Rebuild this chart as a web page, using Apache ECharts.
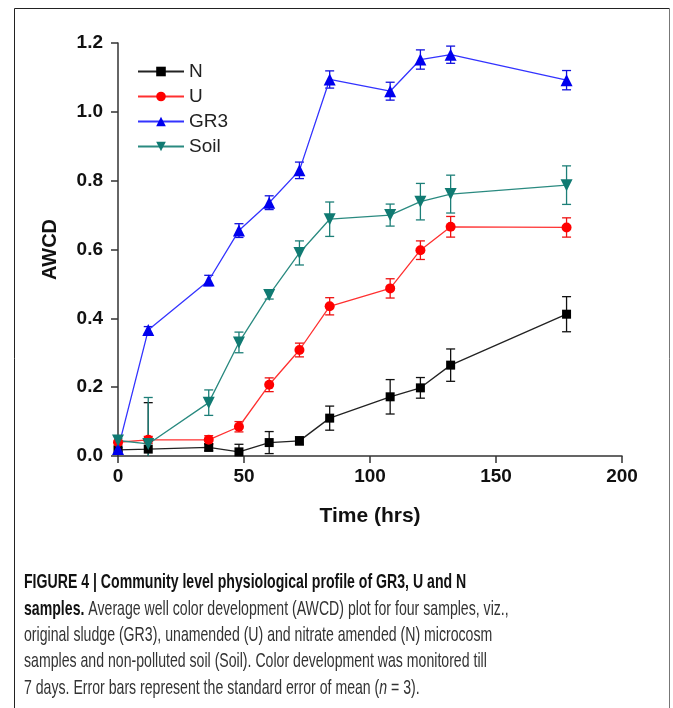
<!DOCTYPE html>
<html>
<head>
<meta charset="utf-8">
<script src="https://cdn.jsdelivr.net/npm/echarts@6/dist/echarts.min.js"></script>
<style>
  html, body { margin: 0; padding: 0; background: #fff; }
  #main { width: 673px; height: 708px; }
</style>
</head>
<body>
<div id="main"></div>
<script>
// sampling times (hrs)
var times = [0, 12, 36, 48, 60, 72, 84, 108, 120, 132, 178];
// AWCD means and standard errors
var nVal = [0.018, 0.02, 0.025, 0.012, 0.039, 0.044, 0.11, 0.172, 0.198, 0.264, 0.412];
var nErr = [0.005, 0.135, 0.01, 0.022, 0.032, 0.012, 0.035, 0.05, 0.03, 0.047, 0.051];
var uVal = [0.04, 0.047, 0.047, 0.085, 0.207, 0.308, 0.435, 0.487, 0.598, 0.666, 0.664];
var uErr = [0.005, 0.01, 0.012, 0.015, 0.02, 0.02, 0.025, 0.028, 0.027, 0.03, 0.028];
var gr3Val = [0.02, 0.366, 0.51, 0.655, 0.736, 0.83, 1.094, 1.06, 1.152, 1.166, 1.092];
var gr3Err = [0.005, 0.01, 0.015, 0.02, 0.02, 0.024, 0.025, 0.026, 0.028, 0.025, 0.028];
var soilVal = [0.045, 0.035, 0.155, 0.33, 0.468, 0.59, 0.688, 0.70, 0.739, 0.761, 0.787];
var soilErr = [0.005, 0.135, 0.037, 0.03, 0.012, 0.035, 0.05, 0.032, 0.053, 0.055, 0.056];
var xTicks = [0, 50, 100, 150, 200];
var yTicks = [0, 0.2, 0.4, 0.6, 0.8, 1.0, 1.2];

var captionLines = [
  '{b|FIGURE 4 | Community level physiological profile of GR3, U and N}',
  '{b|samples.} Average well color development (AWCD) plot for four samples, viz.,',
  'original sludge (GR3), unamended (U) and nitrate amended (N) microcosm',
  'samples and non-polluted soil (Soil). Color development was monitored till',
  '7 days. Error bars represent the standard error of mean ({i|n} = 3).'
];

var myChart = echarts.init(document.getElementById('main'));

function pairs(vals) {
  return times.map(function (t, i) { return [t, vals[i]]; });
}
function errData(vals, errs) {
  return times.map(function (t, i) { return [t, vals[i] - errs[i], vals[i] + errs[i]]; });
}
function errSeries(name, vals, errs, color) {
  return {
    name: name,
    type: 'custom',
    clip: true,
    z: 1,
    data: errData(vals, errs),
    renderItem: function (params, api) {
      var x = api.value(0);
      var top = api.coord([x, api.value(2)]);
      var bot = api.coord([x, api.value(1)]);
      var w = 4.5;
      var st = { stroke: color, lineWidth: 1.3 };
      return {
        type: 'group',
        children: [
          { type: 'line', shape: { x1: top[0], y1: top[1], x2: bot[0], y2: bot[1] }, style: st },
          { type: 'line', shape: { x1: top[0] - w, y1: top[1], x2: top[0] + w, y2: top[1] }, style: st },
          { type: 'line', shape: { x1: bot[0] - w, y1: bot[1], x2: bot[0] + w, y2: bot[1] }, style: st }
        ]
      };
    }
  };
}
function lineSeries(name, vals, lineColor, markColor, symbol, size, rotate) {
  return {
    name: name,
    type: 'line',
    z: 3,
    data: pairs(vals),
    symbol: symbol,
    symbolSize: size,
    symbolRotate: rotate || 0,
    lineStyle: { color: lineColor, width: 1.3 },
    itemStyle: { color: markColor },
    color: markColor
  };
}

var axisFont = { fontFamily: 'Liberation Sans', fontWeight: 'bold', fontSize: 19, color: '#111' };
var capFont = 'Liberation Sans';

var option = {
  backgroundColor: '#fff',
  animation: false,
  grid: { left: 118, right: 51, top: 43, bottom: 252 },
  legend: {
    orient: 'vertical',
    left: 132,
    top: 57,
    itemWidth: 46,
    itemHeight: 12,
    itemGap: 6,
    data: ['N', 'U', 'GR3', 'Soil'],
    textStyle: { fontFamily: 'Liberation Sans', fontSize: 19, color: '#222' }
  },
  xAxis: {
    type: 'value',
    min: 0,
    max: 200,
    interval: 50,
    name: 'Time (hrs)',
    nameLocation: 'middle',
    nameGap: 50,
    nameTextStyle: { fontFamily: 'Liberation Sans', fontWeight: 'bold', fontSize: 21, color: '#111' },
    axisLine: { lineStyle: { color: '#333', width: 1.5 } },
    axisTick: { inside: false, length: 7, lineStyle: { color: '#333', width: 1.5 } },
    axisLabel: Object.assign({ margin: 11, formatter: function (v) { return xTicks.indexOf(v) >= 0 ? String(v) : ''; } }, axisFont),
    splitLine: { show: false }
  },
  yAxis: {
    type: 'value',
    min: 0,
    max: 1.2,
    interval: 0.2,
    name: 'AWCD',
    nameLocation: 'middle',
    nameGap: 58,
    nameTextStyle: { fontFamily: 'Liberation Sans', fontWeight: 'bold', fontSize: 20, color: '#111' },
    axisLine: { show: true, lineStyle: { color: '#333', width: 1.5 } },
    axisTick: { show: true, inside: false, length: 7, lineStyle: { color: '#333', width: 1.5 } },
    axisLabel: Object.assign({ margin: 15, formatter: function (v) {
      var t = yTicks.filter(function (k) { return Math.abs(k - v) < 1e-6; });
      return t.length ? t[0].toFixed(1) : '';
    } }, axisFont),
    splitLine: { show: false }
  },
  graphic: [
    {
      type: 'polyline',
      silent: true,
      shape: { points: [[14.5, 712], [14.5, 8.5], [669.5, 8.5]] },
      style: { stroke: '#222', lineWidth: 1, fill: null }
    },
    {
      type: 'line',
      silent: true,
      shape: { x1: 669.5, y1: 8.5, x2: 669.5, y2: 712 },
      style: { stroke: '#777', lineWidth: 1 }
    }
  ].concat(captionLines.map(function (txt, i) {
    return {
      type: 'text',
      x: 24,
      y: 572 + i * 26.4,
      scaleX: 0.672,
      silent: true,
      style: {
        text: txt,
        x: 0,
        y: 0,
        fontFamily: capFont,
        fontSize: 21,
        fill: '#333',
        rich: {
          b: { fontFamily: capFont, fontWeight: 'bold', fontSize: 21, fill: '#111' },
          i: { fontFamily: capFont, fontStyle: 'italic', fontSize: 21, fill: '#333' }
        }
      }
    };
  })),
  series: [
    errSeries('N err', nVal, nErr, '#111'),
    errSeries('U err', uVal, uErr, '#ee1111'),
    errSeries('GR3 err', gr3Val, gr3Err, '#1111dd'),
    errSeries('Soil err', soilVal, soilErr, '#1d7f78'),
    lineSeries('N', nVal, '#222', '#000', 'rect', 9),
    lineSeries('U', uVal, '#ff3030', '#ff0000', 'circle', 10),
    lineSeries('GR3', gr3Val, '#3333ff', '#0000ee', 'triangle', 12),
    lineSeries('Soil', soilVal, '#2a8a80', '#107a72', 'triangle', 12, 180)
  ]
};
myChart.setOption(option);
</script>
</body>
</html>
